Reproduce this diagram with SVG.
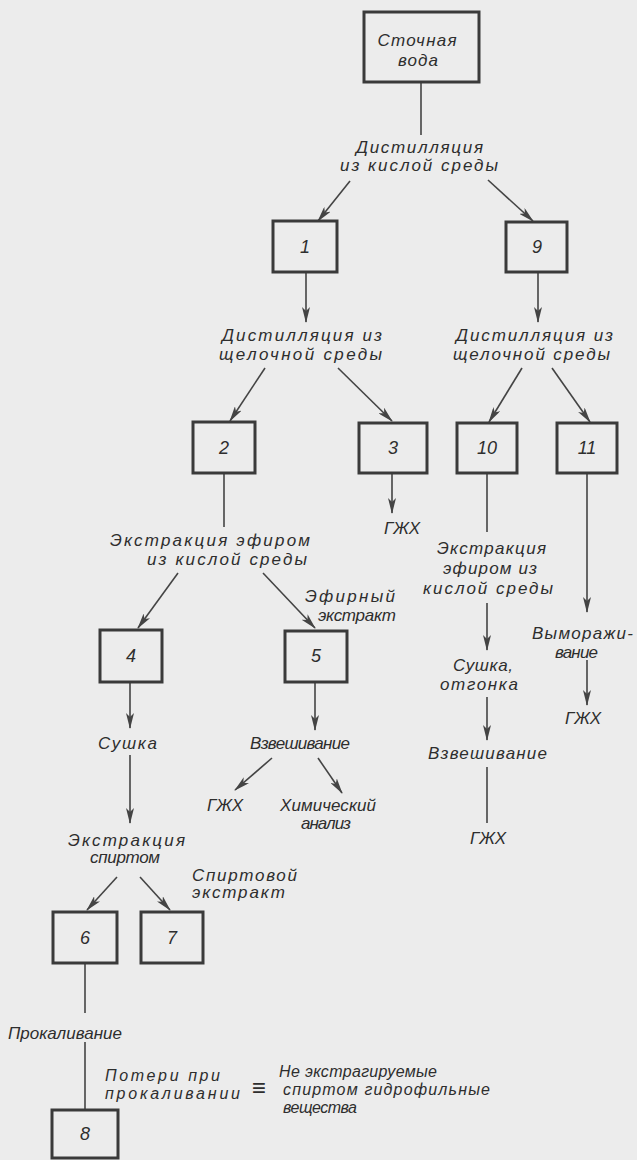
<svg xmlns="http://www.w3.org/2000/svg" width="637" height="1160" viewBox="0 0 637 1160">
<style>
.box{fill:none;stroke:#3a3a3a;stroke-width:3}
.c{fill:none;stroke:#444;stroke-width:1.6}
.a{marker-end:url(#ah)}
text{font-family:"Liberation Sans","DejaVu Sans",sans-serif;font-style:italic;font-size:17px;fill:#2e2e2e}
.m{text-anchor:middle}
.n{font-size:18px;text-anchor:middle}
.s{font-size:16px}
</style>
<defs>
<marker id="ah" viewBox="0 0 16 8" refX="15" refY="4" markerWidth="16" markerHeight="8" markerUnits="userSpaceOnUse" orient="auto">
<path d="M0,0 L16,4 L0,8 L4,4 Z" fill="#444"/>
</marker>
</defs>
<rect width="637" height="1160" fill="#ececec"/>

<g id="connectors">
<line class="c" x1="421" y1="82" x2="421" y2="135"/>
<line class="c a" x1="350" y1="181" x2="318" y2="221"/>
<line class="c a" x1="488" y1="180" x2="533" y2="221"/>
<line class="c a" x1="306" y1="272" x2="306" y2="322"/>
<line class="c a" x1="538" y1="272" x2="538" y2="322"/>
<line class="c a" x1="265" y1="368" x2="230" y2="421"/>
<line class="c a" x1="338" y1="368" x2="392" y2="421"/>
<line class="c a" x1="522" y1="368" x2="489" y2="422"/>
<line class="c a" x1="552" y1="368" x2="590" y2="422"/>
<line class="c" x1="224" y1="473" x2="224" y2="527"/>
<line class="c a" x1="392" y1="473" x2="392" y2="513"/>
<line class="c" x1="487" y1="473" x2="487" y2="532"/>
<line class="c a" x1="587" y1="473" x2="587" y2="612"/>
<line class="c a" x1="178" y1="573" x2="138" y2="628"/>
<line class="c a" x1="263" y1="573" x2="315" y2="628"/>
<line class="c a" x1="487" y1="603" x2="487" y2="650"/>
<line class="c a" x1="587" y1="660" x2="587" y2="705"/>
<line class="c a" x1="487" y1="697" x2="487" y2="740"/>
<line class="c" x1="487" y1="767" x2="487" y2="823"/>
<line class="c a" x1="130" y1="682" x2="130" y2="728"/>
<line class="c a" x1="315" y1="682" x2="315" y2="730"/>
<line class="c a" x1="130" y1="755" x2="130" y2="823"/>
<line class="c a" x1="272" y1="758" x2="235" y2="790"/>
<line class="c a" x1="318" y1="758" x2="342" y2="793"/>
<line class="c a" x1="117" y1="877" x2="87" y2="910"/>
<line class="c a" x1="140" y1="877" x2="170" y2="910"/>
<line class="c" x1="85" y1="963" x2="85" y2="1013"/>
<line class="c" x1="85" y1="1042" x2="85" y2="1110"/>
</g>

<g id="node-source">
<rect class="box" x="364" y="12" width="115" height="70"/>
<text x="417" y="46" class="m" textLength="79" lengthAdjust="spacing">Сточная</text>
<text x="418" y="66" class="m" textLength="40" lengthAdjust="spacing">вода</text>
</g>
<g id="node-1"><rect class="box" x="273" y="221" width="64" height="51"/><text x="305" y="253" class="n">1</text></g>
<g id="node-9"><rect class="box" x="506" y="222" width="61" height="50"/><text x="537" y="253" class="n">9</text></g>
<g id="node-2"><rect class="box" x="193" y="422" width="62" height="51"/><text x="224" y="454" class="n">2</text></g>
<g id="node-3"><rect class="box" x="359" y="423" width="68" height="50"/><text x="393" y="454" class="n">3</text></g>
<g id="node-10"><rect class="box" x="457" y="423" width="60" height="50"/><text x="487" y="454" class="n">10</text></g>
<g id="node-11"><rect class="box" x="557" y="423" width="60" height="50"/><text x="587" y="454" class="n">11</text></g>
<g id="node-4"><rect class="box" x="100" y="630" width="62" height="52"/><text x="131" y="662" class="n">4</text></g>
<g id="node-5"><rect class="box" x="285" y="631" width="62" height="51"/><text x="316" y="662" class="n">5</text></g>
<g id="node-6"><rect class="box" x="53" y="912" width="64" height="51"/><text x="85" y="944" class="n">6</text></g>
<g id="node-7"><rect class="box" x="141" y="912" width="62" height="51"/><text x="172" y="944" class="n">7</text></g>
<g id="node-8"><rect class="box" x="52" y="1110" width="66" height="48"/><text x="85" y="1140" class="n">8</text></g>

<g id="labels">
<text x="356" y="153" textLength="127" lengthAdjust="spacing">Дистилляция</text>
<text x="340" y="171" textLength="158" lengthAdjust="spacing">из кислой среды</text>

<text x="222" y="341" textLength="160" lengthAdjust="spacing">Дистилляция из</text>
<text x="219" y="360" textLength="163" lengthAdjust="spacing">щелочной среды</text>
<text x="456" y="341" textLength="157" lengthAdjust="spacing">Дистилляция из</text>
<text x="453" y="360" textLength="157" lengthAdjust="spacing">щелочной среды</text>

<text x="384" y="534">ГЖХ</text>

<text x="110" y="546" textLength="200" lengthAdjust="spacing">Экстракция эфиром</text>
<text x="147" y="565" textLength="160" lengthAdjust="spacing">из кислой среды</text>
<text x="305" y="602" textLength="90" lengthAdjust="spacing">Эфирный</text>
<text x="318" y="621" textLength="78" lengthAdjust="spacing">экстракт</text>

<text x="437" y="554" textLength="109" lengthAdjust="spacing">Экстракция</text>
<text x="443" y="574" textLength="94" lengthAdjust="spacing">эфиром из</text>
<text x="423" y="594" textLength="130" lengthAdjust="spacing">кислой среды</text>
<text x="453" y="671" textLength="60" lengthAdjust="spacing">Сушка,</text>
<text x="440" y="690" textLength="78" lengthAdjust="spacing">отгонка</text>
<text x="428" y="759" textLength="119" lengthAdjust="spacing">Взвешивание</text>
<text x="470" y="844">ГЖХ</text>

<text x="532" y="639" textLength="101" lengthAdjust="spacing">Выморажи-</text>
<text x="555" y="658" textLength="43" lengthAdjust="spacing">вание</text>
<text x="565" y="724">ГЖХ</text>

<text x="98" y="749" textLength="59" lengthAdjust="spacing">Сушка</text>
<text x="250" y="749" textLength="100" lengthAdjust="spacing">Взвешивание</text>
<text x="207" y="811">ГЖХ</text>
<text x="280" y="811" textLength="96" lengthAdjust="spacing">Химический</text>
<text x="301" y="829" textLength="50" lengthAdjust="spacing">анализ</text>

<text x="68" y="846" textLength="117" lengthAdjust="spacing">Экстракция</text>
<text x="90" y="863" textLength="70" lengthAdjust="spacing">спиртом</text>
<text x="192" y="881" textLength="105" lengthAdjust="spacing">Спиртовой</text>
<text x="192" y="898" textLength="93" lengthAdjust="spacing">экстракт</text>

<text x="8" y="1039" textLength="114" lengthAdjust="spacing">Прокаливание</text>
<text x="105" y="1081" class="s" textLength="115" lengthAdjust="spacing">Потери при</text>
<text x="105" y="1099" class="s" textLength="135" lengthAdjust="spacing">прокаливании</text>
<text x="259" y="1096" class="m" style="font-style:normal;font-size:24px">≡</text>
<text x="279" y="1077" class="s" textLength="158" lengthAdjust="spacing">Не экстрагируемые</text>
<text x="283" y="1095" class="s" textLength="207" lengthAdjust="spacing">спиртом гидрофильные</text>
<text x="283" y="1113" class="s" textLength="74" lengthAdjust="spacing">вещества</text>
</g>
</svg>
